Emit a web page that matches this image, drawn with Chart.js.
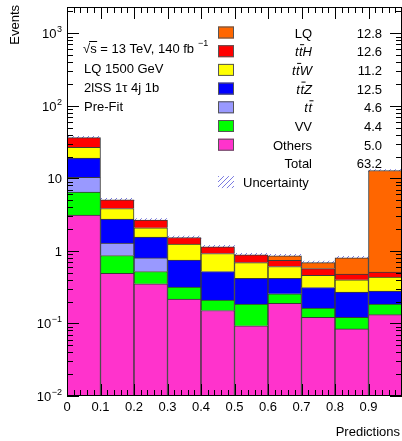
<!DOCTYPE html>
<html>
<head>
<meta charset="utf-8">
<script src="https://cdn.jsdelivr.net/npm/chart.js@4.4.0/dist/chart.umd.min.js"></script>
<style>
  html, body { margin: 0; padding: 0; background: #fff; }
</style>
</head>
<body>
<canvas id="c" width="402" height="441"></canvas>
<script>
// --- DADOS ---
const binCenters = [0.05, 0.15, 0.25, 0.35, 0.45, 0.55, 0.65, 0.75, 0.85, 0.95];
const others = [3.11, 0.489, 0.352, 0.217, 0.151, 0.093, 0.19, 0.121, 0.084, 0.132];
const vv     = [3.34, 0.376, 0.168, 0.10, 0.059, 0.092, 0.066, 0.042, 0.037, 0.053];
const ttbar  = [3.85, 0.415, 0.28, null, null, null, null, null, null, null];
const ttZ    = [8.7, 1.46, 0.75, 0.433, 0.31, 0.235, 0.164, 0.15, 0.149, 0.095];
const ttW    = [7.8, 1.1, 0.53, 0.49, 0.40, 0.27, 0.19, 0.147, 0.13, 0.155];
const ttH    = [9.7, 1.22, 0.58, 0.29, 0.22, 0.19, 0.13, 0.11, 0.08, 0.075];
const lq     = [null, null, null, null, null, null, 0.117, 0.12, 0.32, 12.3];
const uncRel = [0.04, 0.05, 0.05, 0.05, 0.05, 0.05, 0.05, 0.05, 0.05, 0.03];

const legendNames  = ['LQ', 'ttH', 'ttW', 'ttZ', 'tt', 'VV', 'Others'];
const legendYields = ['12.8', '12.6', '11.2', '12.5', '4.6', '4.4', '5.0'];
const totalYield = '63.2';
const xTickLabels = ['0', '0.1', '0.2', '0.3', '0.4', '0.5', '0.6', '0.7', '0.8', '0.9'];
const yTickExps = [-2, -1, 0, 1, 2, 3];
const infoLines = ['LQ 1500 GeV', '2lSS 1\u03c4 4j 1b', 'Pre-Fit'];

const colors = {
  others: '#ff33cc', vv: '#00ff00', ttbar: '#9999ff', ttZ: '#0000ff',
  ttW: '#ffff00', ttH: '#ff0000', lq: '#ff6600'
};
const legendColors = [colors.lq, colors.ttH, colors.ttW, colors.ttZ, colors.ttbar, colors.vv, colors.others];

const FONT = '"Liberation Sans", Arial, sans-serif';
const canvas = document.getElementById('c');
const ctx = canvas.getContext('2d');

// padrão hachurado da incerteza
const makeHatch = () => {
  const p = document.createElement('canvas');
  p.width = 5; p.height = 5;
  const g = p.getContext('2d');
  g.strokeStyle = 'rgba(100,100,220,0.85)';
  g.lineWidth = 1;
  g.beginPath(); g.moveTo(0, 5); g.lineTo(5, 0); g.stroke();
  return ctx.createPattern(p, 'repeat');
};
const hatch = makeHatch();

const totals = binCenters.map((_, i) =>
  [others, vv, ttbar, ttZ, ttW, ttH, lq].reduce((s, arr) => s + (arr[i] || 0), 0));
const uncBand = totals.map((t, i) => [t * (1 - uncRel[i]), t * (1 + uncRel[i])]);

const ds = (label, data, color) => ({
  label, data, backgroundColor: color, borderColor: '#3a3a3a', borderWidth: 1,
  stack: 'bkg', barPercentage: 1, categoryPercentage: 1
});

// --- ESTILO ROOT: moldura, ticks, textos, legenda ---
const rootStyle = {
  id: 'rootStyle',
  afterDraw(chart) {
    const { ctx, chartArea: a, scales: { x, y } } = chart;
    ctx.save();
    ctx.strokeStyle = '#000';
    ctx.lineWidth = 1;
    ctx.strokeRect(a.left + 0.5, a.top + 0.5, a.right - a.left - 1, a.bottom - a.top - 1);

    // ticks do eixo x
    ctx.beginPath();
    for (let k = 0; k <= 50; k++) {
      const px = Math.round(x.getPixelForValue(k / 50)) + 0.5;
      const len = k % 5 === 0 ? 12 : 6;
      ctx.moveTo(px, a.bottom); ctx.lineTo(px, a.bottom - len);
      ctx.moveTo(px, a.top); ctx.lineTo(px, a.top + len);
    }
    // ticks do eixo y
    for (let e = -2; e <= 3; e++) {
      for (let m = 1; m <= 9; m++) {
        const v = m * Math.pow(10, e);
        if (v > y.max) break;
        const py = Math.round(y.getPixelForValue(v)) + 0.5;
        const len = m === 1 ? 12 : 6;
        ctx.moveTo(a.left, py); ctx.lineTo(a.left + len, py);
        ctx.moveTo(a.right, py); ctx.lineTo(a.right - len, py);
      }
    }
    ctx.stroke();

    ctx.fillStyle = '#000';
    ctx.font = '13px ' + FONT;
    // rótulos x
    ctx.textAlign = 'center';
    ctx.textBaseline = 'alphabetic';
    xTickLabels.forEach((t, i) => ctx.fillText(t, x.getPixelForValue(i / 10), 411));

    // rótulos y com expoente
    yTickExps.forEach(e => {
      const py = y.getPixelForValue(Math.pow(10, e));
      const right = 62;
      ctx.textAlign = 'left';
      if (e === 0 || e === 1) {
        const t = e === 0 ? '1' : '10';
        ctx.font = '13px ' + FONT;
        ctx.fillText(t, right - ctx.measureText(t).width, py + 5);
      } else {
        ctx.font = '9px ' + FONT;
        const sup = String(e).replace('-', '\u2212');
        const ws = ctx.measureText(sup).width;
        ctx.fillText(sup, right - ws, py - 1);
        ctx.font = '13px ' + FONT;
        const wb = ctx.measureText('10').width;
        ctx.fillText('10', right - ws - wb - 0.5, py + 5);
      }
    });

    // títulos dos eixos
    ctx.font = '13px ' + FONT;
    ctx.textAlign = 'right';
    ctx.fillText('Predictions', 400, 436);
    ctx.save();
    ctx.translate(19, 5);
    ctx.rotate(-Math.PI / 2);
    ctx.textAlign = 'right';
    ctx.fillText('Events', 0, 0);
    ctx.restore();

    // texto informativo
    ctx.textAlign = 'left';
    const x0 = 83;
    const s1 = '\u221as = 13 TeV, 140 fb';
    ctx.fillText(s1, x0, 53);
    const wRoot = ctx.measureText('\u221a').width;
    const wS = ctx.measureText('s').width;
    ctx.beginPath();
    ctx.moveTo(x0 + wRoot - 1, 41.5); ctx.lineTo(x0 + wRoot + wS + 0.5, 41.5);
    ctx.stroke();
    const w1 = ctx.measureText(s1).width;
    ctx.font = '9px ' + FONT;
    ctx.fillText('\u22121', x0 + w1 + 4, 46);
    ctx.font = '13px ' + FONT;
    infoLines.forEach((t, i) => ctx.fillText(t, x0 + 1, 73 + i * 19));

    // legenda
    const rowY = r => 32.5 + r * 18.7;
    const labelRight = 312, valueRight = 382;
    legendNames.forEach((name, r) => {
      const cy = rowY(r);
      ctx.fillStyle = legendColors[r];
      ctx.fillRect(218, cy - 6, 16, 12);
      ctx.strokeStyle = '#555';
      ctx.strokeRect(218.5, cy - 5.5, 15, 11);
      ctx.fillStyle = '#000';
      ctx.strokeStyle = '#000';
      const base = cy + 5;
      if (name.startsWith('tt')) {
        ctx.font = 'italic 13px ' + FONT;
        const wt = ctx.measureText('t').width;
        const rest = name.slice(2);
        const wr = ctx.measureText(rest).width;
        let sx = labelRight - (wt * 2 + 0.5 + wr);
        ctx.textAlign = 'left';
        ctx.fillText('t', sx, base);
        ctx.fillText('t', sx + wt + 0.5, base);
        ctx.beginPath();
        ctx.moveTo(sx + wt + 1.5, base - 11.5); ctx.lineTo(sx + 2 * wt + 2, base - 11.5);
        ctx.stroke();
        if (rest) ctx.fillText(rest, sx + 2 * wt + 0.5, base);
      } else {
        ctx.font = '13px ' + FONT;
        ctx.textAlign = 'right';
        ctx.fillText(name, labelRight, base);
      }
      ctx.font = '13px ' + FONT;
      ctx.textAlign = 'right';
      ctx.fillText(legendYields[r], valueRight, base);
    });
    ctx.textAlign = 'right';
    ctx.fillText('Total', labelRight, rowY(7) + 5);
    ctx.fillText(totalYield, valueRight, rowY(7) + 5);
    const uy = rowY(8);
    ctx.fillStyle = hatch;
    ctx.fillRect(218, uy - 6, 16, 12);
    ctx.fillStyle = '#000';
    ctx.textAlign = 'left';
    ctx.fillText('Uncertainty', 243, uy + 5);
    ctx.restore();
  }
};

new Chart(ctx, {
  type: 'bar',
  data: {
    labels: binCenters,
    datasets: [
      ds('Others', others, colors.others),
      ds('VV', vv, colors.vv),
      ds('ttbar', ttbar, colors.ttbar),
      ds('ttZ', ttZ, colors.ttZ),
      ds('ttW', ttW, colors.ttW),
      ds('ttH', ttH, colors.ttH),
      ds('LQ', lq, colors.lq),
      {
        label: 'Uncertainty', data: uncBand, backgroundColor: hatch, borderWidth: 0,
        stack: 'unc', grouped: false, barPercentage: 1, categoryPercentage: 1
      }
    ]
  },
  options: {
    responsive: false,
    animation: false,
    devicePixelRatio: 1,
    layout: { padding: { left: 67, right: 0, top: 7, bottom: 45 } },
    plugins: { legend: { display: false }, tooltip: { enabled: false } },
    scales: {
      x: { type: 'linear', min: 0, max: 1, offset: false, stacked: true, display: false },
      y: { type: 'logarithmic', min: 0.01, max: 2300, stacked: true, display: false }
    }
  },
  plugins: [rootStyle]
});
</script>
</body>
</html>
